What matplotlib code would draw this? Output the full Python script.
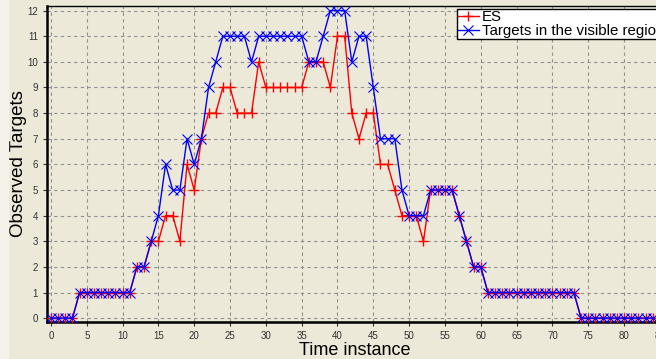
import matplotlib
matplotlib.use("Agg")
import matplotlib.pyplot as plt
from matplotlib.patches import Rectangle

plt.rcParams["font.family"] = ["Liberation Sans", "DejaVu Sans"]

# ── data ───────────────────────────────────────────────────────────────────
time = list(range(0, 85))

es = ([0] * 4 + [1] * 8 + [2, 2, 3, 3, 4, 4, 3, 6, 5, 7, 8, 8, 9, 9, 8, 8, 8, 10]
      + [9] * 6 + [10, 10, 10, 9, 11, 11, 8, 7, 8, 8, 6, 6, 5, 4, 4, 4, 3]
      + [5] * 4 + [4, 3, 2, 2] + [1] * 13 + [0] * 11)

visible = ([0] * 4 + [1] * 8 + [2, 2, 3, 4, 6, 5, 5, 7, 6, 7, 9, 10] + [11] * 4 + [10]
           + [11] * 7 + [10, 10, 11, 12, 12, 12, 10, 11, 11, 9, 7, 7, 7, 5, 4, 4, 4]
           + [5] * 4 + [4, 3, 2, 2] + [1] * 13 + [0] * 11)

BG = "#ECE9D8"
W, H = 656, 359
AX_L, AX_T, AX_B = 47, 6, 322
AX_W = W - AX_L + 6

fig = plt.figure(figsize=(W / 100, H / 100), dpi=100, facecolor=BG)
fig.patches.append(Rectangle((0, 0), 8 / W, 1, transform=fig.transFigure,
                             color="#F4F2EA", zorder=0))
ax = fig.add_axes([AX_L / W, 1 - AX_B / H, AX_W / W, (AX_B - AX_T) / H])
ax.set_facecolor(BG)

ax.plot(time, es, color="red", marker="+", ms=7.5, mew=1.0, lw=1.0, label="ES",
        zorder=3)
ax.plot(time, visible, color="blue", marker="x", ms=6.5, mew=0.8, lw=1.0,
        label="Targets in the visible region", zorder=4)

ax.set_xlim(-0.55, 85.3)
ax.set_ylim(-0.15, 12.18)
ax.set_xticks(range(0, 86, 5))
ax.set_yticks(range(0, 13))
ax.tick_params(labelsize=7, colors="#333333", length=3, width=0.8)
ax.grid(True, ls=(0, (3, 3)), color="#909090", lw=0.8)

ax.spines["left"].set_linewidth(1.8)
ax.spines["bottom"].set_linewidth(1.8)
ax.spines["top"].set_linewidth(1.0)
ax.spines["right"].set_visible(False)

ax.set_xlabel("Time instance", fontsize=13, labelpad=1)
ax.set_ylabel("Observed Targets", fontsize=13.5)
ax.yaxis.set_label_coords((27 - AX_L) / AX_W, 0.5)

leg = ax.legend(loc="upper left", bbox_to_anchor=(457 / W, 1 - 9 / H),
                bbox_transform=fig.transFigure, fontsize=10.8, frameon=True,
                fancybox=False, framealpha=1, edgecolor="black",
                handlelength=1.4, handletextpad=0.2, borderpad=0.05,
                labelspacing=0.0, borderaxespad=0)
leg.get_frame().set_linewidth(1.0)

fig.savefig("out.png", dpi=100, facecolor=BG)
